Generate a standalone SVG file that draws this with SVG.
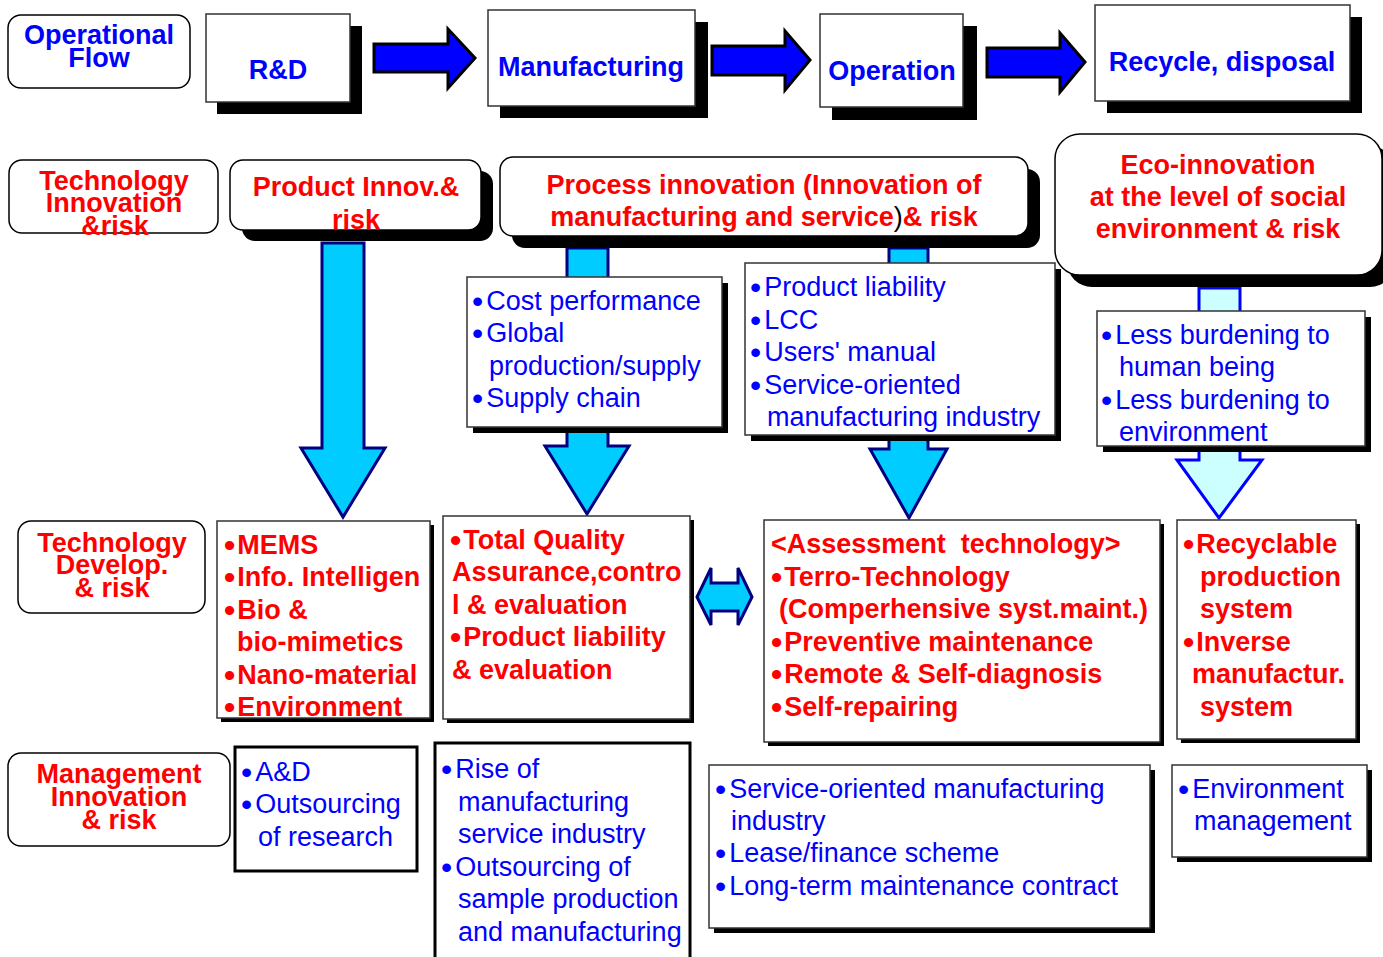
<svg xmlns="http://www.w3.org/2000/svg" width="1383" height="957" viewBox="0 0 1383 957">
  <style>
    .bg { fill:#ffffff }
    .box { fill:#ffffff; stroke:#333333; stroke-width:1.5 }
    .thick { fill:#ffffff; stroke:#000000; stroke-width:3 }
    .lbl { fill:#ffffff; stroke:#000000; stroke-width:1.5 }
    .sh { fill:#000000 }
    .b { font-family:"Liberation Sans", Arial, Helvetica, sans-serif; font-size:27px; font-weight:bold }
    .n { font-family:"Liberation Sans", Arial, Helvetica, sans-serif; font-size:27px }
    .bu { font-size:32px }
    .c { text-anchor:middle }
    .red { fill:#ff0000 }
    .blue { fill:#0000ff }
    .flow { fill:#0000ff; stroke:#000000; stroke-width:3; stroke-linejoin:miter }
    .down { fill:#00ccff; stroke:#000080; stroke-width:3 }
    .downl { fill:#ccffff; stroke:#0000ff; stroke-width:3 }
  </style>
  <rect class="bg" x="0" y="0" width="1383" height="957"/>

  <!-- connectors (drawn first so the boxes sit on top of the shafts) -->
  <g id="connectors">
    <path class="flow" d="M374,44 H448 V29 L475,58 L448,88 V72 H374 Z"/>
    <path class="flow" d="M712,46 H785 V31 L810,60 L785,90 V75 H712 Z"/>
    <path class="flow" d="M987,48 H1060 V33 L1085,62 L1060,92 V77 H987 Z"/>
    <path class="down" d="M322,243 H364 V448 H385 L343,517 L301,448 H322 Z"/>
    <path class="down" d="M567,248 H608 V446 H629 L587,514 L545,446 H567 Z"/>
    <path class="down" d="M889,248 H928 V449 H947 L909,518 L870,449 H889 Z"/>
    <path class="downl" d="M1199,288 H1240 V460 H1262 L1219,518 L1177,460 H1199 Z"/>
    <path class="down" d="M697,597 L711,568 V583 H738 V568 L752,597 L738,625 V611 H711 V625 Z"/>
  </g>

  <!-- operational flow row -->
  <g id="op-flow">
    <rect class="lbl" x="8" y="15" width="182" height="73" rx="13"/>
    <text class="b c blue" x="99" y="44">Operational</text>
    <text class="b c blue" x="99" y="67">Flow</text>
  </g>
  <g id="rnd">
    <rect class="sh" x="217" y="26" width="145" height="88"/>
    <rect class="box" x="206" y="14" width="144" height="88"/>
    <text class="b c blue" x="278" y="79">R&amp;D</text>
  </g>
  <g id="manufacturing">
    <rect class="sh" x="500" y="22" width="208" height="96"/>
    <rect class="box" x="488" y="10" width="207" height="96"/>
    <text class="b c blue" x="591" y="76">Manufacturing</text>
  </g>
  <g id="operation">
    <rect class="sh" x="832" y="26" width="145" height="94"/>
    <rect class="box" x="820" y="14" width="143" height="93"/>
    <text class="b c blue" x="892" y="80">Operation</text>
  </g>
  <g id="recycle">
    <rect class="sh" x="1107" y="17" width="255" height="96"/>
    <rect class="box" x="1095" y="5" width="255" height="96"/>
    <text class="b c blue" x="1222" y="71">Recycle, disposal</text>
  </g>

  <!-- technology innovation row -->
  <g id="tech-innov">
    <rect class="lbl" x="9" y="160" width="209" height="73" rx="13"/>
    <text class="b c red" x="114" y="190">Technology</text>
    <text class="b c red" x="114" y="212">Innovation</text>
    <text class="b c red" x="115" y="235">&amp;risk</text>
  </g>
  <g id="product-innov">
    <rect class="sh" x="242" y="171" width="251" height="70" rx="13"/>
    <rect class="lbl" x="230" y="160" width="251" height="70" rx="13"/>
    <text class="b c red" x="356" y="196">Product Innov.&amp;</text>
    <text class="b c red" x="356" y="229">risk</text>
  </g>
  <g id="process-innov">
    <rect class="sh" x="512" y="169" width="528" height="79" rx="13"/>
    <rect class="lbl" x="500" y="157" width="528" height="79" rx="13"/>
    <text class="b c red" x="764" y="194">Process innovation (Innovation of</text>
    <text class="b c red" x="764" y="226">manufacturing and service<tspan style="font-weight:normal;fill:#000000">)</tspan>&amp; risk</text>
  </g>
  <g id="eco-innov">
    <rect class="sh" x="1067" y="146" width="328" height="141" rx="25"/>
    <rect class="lbl" x="1055" y="134" width="327" height="141" rx="25"/>
    <text class="b c red" x="1218" y="174">Eco-innovation</text>
    <text class="b c red" x="1218" y="206">at the level of social</text>
    <text class="b c red" x="1218" y="238">environment &amp; risk</text>
  </g>

  <g id="cost-box">
    <rect class="sh" x="473" y="283" width="255" height="150"/>
    <rect class="box" x="467" y="277" width="255" height="150"/>
    <text class="n blue" x="472" y="310"><tspan class="bu" dy="2">•</tspan><tspan dx="3" dy="-2">Cost performance</tspan></text>
    <text class="n blue" x="472" y="342"><tspan class="bu" dy="2">•</tspan><tspan dx="3" dy="-2">Global</tspan></text>
    <text class="n blue" x="489" y="375">production/supply</text>
    <text class="n blue" x="472" y="407"><tspan class="bu" dy="2">•</tspan><tspan dx="3" dy="-2">Supply chain</tspan></text>
  </g>
  <g id="liability-box">
    <rect class="sh" x="751" y="269" width="310" height="172"/>
    <rect class="box" x="745" y="263" width="310" height="172"/>
    <text class="n blue" x="750" y="296"><tspan class="bu" dy="2">•</tspan><tspan dx="3" dy="-2">Product liability</tspan></text>
    <text class="n blue" x="750" y="329"><tspan class="bu" dy="2">•</tspan><tspan dx="3" dy="-2">LCC</tspan></text>
    <text class="n blue" x="750" y="361"><tspan class="bu" dy="2">•</tspan><tspan dx="3" dy="-2">Users' manual</tspan></text>
    <text class="n blue" x="750" y="394"><tspan class="bu" dy="2">•</tspan><tspan dx="3" dy="-2">Service-oriented</tspan></text>
    <text class="n blue" x="767" y="426">manufacturing industry</text>
  </g>
  <g id="burden-box">
    <rect class="sh" x="1103" y="317" width="268" height="135"/>
    <rect class="box" x="1097" y="311" width="268" height="135"/>
    <text class="n blue" x="1101" y="344"><tspan class="bu" dy="2">•</tspan><tspan dx="3" dy="-2">Less burdening to</tspan></text>
    <text class="n blue" x="1119" y="376">human being</text>
    <text class="n blue" x="1101" y="409"><tspan class="bu" dy="2">•</tspan><tspan dx="3" dy="-2">Less burdening to</tspan></text>
    <text class="n blue" x="1119" y="441">environment</text>
  </g>

  <!-- technology development row -->
  <g id="tech-dev">
    <rect class="lbl" x="18" y="521" width="187" height="92" rx="13"/>
    <text class="b c red" x="112" y="552">Technology</text>
    <text class="b c red" x="112" y="574">Develop.</text>
    <text class="b c red" x="112" y="597">&amp; risk</text>
  </g>
  <g id="mems-box">
    <rect class="sh" x="221" y="525" width="213" height="197"/>
    <rect class="box" x="217" y="521" width="213" height="197"/>
    <text class="b red" x="224" y="554"><tspan class="bu" dy="2">•</tspan><tspan dx="2" dy="-2">MEMS</tspan></text>
    <text class="b red" x="224" y="586"><tspan class="bu" dy="2">•</tspan><tspan dx="2" dy="-2">Info. Intelligen</tspan></text>
    <text class="b red" x="224" y="619"><tspan class="bu" dy="2">•</tspan><tspan dx="2" dy="-2">Bio &amp;</tspan></text>
    <text class="b red" x="237" y="651">bio-mimetics</text>
    <text class="b red" x="224" y="684"><tspan class="bu" dy="2">•</tspan><tspan dx="2" dy="-2">Nano-material</tspan></text>
    <text class="b red" x="224" y="716"><tspan class="bu" dy="2">•</tspan><tspan dx="2" dy="-2">Environment</tspan></text>
  </g>
  <g id="tqa-box">
    <rect class="sh" x="447" y="520" width="247" height="203"/>
    <rect class="box" x="443" y="516" width="247" height="203"/>
    <text class="b red" x="450" y="549"><tspan class="bu" dy="2">•</tspan><tspan dx="2" dy="-2">Total Quality</tspan></text>
    <text class="b red" x="452" y="581">Assurance,contro</text>
    <text class="b red" x="452" y="614">l &amp; evaluation</text>
    <text class="b red" x="450" y="646"><tspan class="bu" dy="2">•</tspan><tspan dx="2" dy="-2">Product liability</tspan></text>
    <text class="b red" x="452" y="679">&amp; evaluation</text>
  </g>
  <g id="assessment-box">
    <rect class="sh" x="768" y="524" width="396" height="222"/>
    <rect class="box" x="764" y="520" width="396" height="222"/>
    <text class="b red" x="771" y="553" xml:space="preserve">&lt;Assessment  technology&gt;</text>
    <text class="b red" x="771" y="586"><tspan class="bu" dy="2">•</tspan><tspan dx="2" dy="-2">Terro-Technology</tspan></text>
    <text class="b red" x="779" y="618">(Comperhensive syst.maint.)</text>
    <text class="b red" x="771" y="651"><tspan class="bu" dy="2">•</tspan><tspan dx="2" dy="-2">Preventive maintenance</tspan></text>
    <text class="b red" x="771" y="683"><tspan class="bu" dy="2">•</tspan><tspan dx="2" dy="-2">Remote &amp; Self-diagnosis</tspan></text>
    <text class="b red" x="771" y="716"><tspan class="bu" dy="2">•</tspan><tspan dx="2" dy="-2">Self-repairing</tspan></text>
  </g>
  <g id="recyclable-box">
    <rect class="sh" x="1181" y="524" width="179" height="219"/>
    <rect class="box" x="1177" y="520" width="179" height="219"/>
    <text class="b red" x="1183" y="553"><tspan class="bu" dy="2">•</tspan><tspan dx="2" dy="-2">Recyclable</tspan></text>
    <text class="b red" x="1200" y="586">production</text>
    <text class="b red" x="1200" y="618">system</text>
    <text class="b red" x="1183" y="651"><tspan class="bu" dy="2">•</tspan><tspan dx="2" dy="-2">Inverse</tspan></text>
    <text class="b red" x="1192" y="683">manufactur.</text>
    <text class="b red" x="1200" y="716">system</text>
  </g>

  <!-- management innovation row -->
  <g id="mgmt-innov">
    <rect class="lbl" x="8" y="753" width="222" height="93" rx="13"/>
    <text class="b c red" x="119" y="783">Management</text>
    <text class="b c red" x="119" y="806">Innovation</text>
    <text class="b c red" x="119" y="829">&amp; risk</text>
  </g>
  <g id="ad-box">
    <rect class="thick" x="235" y="747" width="182" height="124"/>
    <text class="n blue" x="241" y="781"><tspan class="bu" dy="2">•</tspan><tspan dx="3" dy="-2">A&amp;D</tspan></text>
    <text class="n blue" x="241" y="813"><tspan class="bu" dy="2">•</tspan><tspan dx="3" dy="-2">Outsourcing</tspan></text>
    <text class="n blue" x="258" y="846">of research</text>
  </g>
  <g id="rise-box">
    <rect class="thick" x="435" y="743" width="255" height="222"/>
    <text class="n blue" x="441" y="778"><tspan class="bu" dy="2">•</tspan><tspan dx="3" dy="-2">Rise of</tspan></text>
    <text class="n blue" x="458" y="811">manufacturing</text>
    <text class="n blue" x="458" y="843">service industry</text>
    <text class="n blue" x="441" y="876"><tspan class="bu" dy="2">•</tspan><tspan dx="3" dy="-2">Outsourcing of</tspan></text>
    <text class="n blue" x="458" y="908">sample production</text>
    <text class="n blue" x="458" y="941">and manufacturing</text>
  </g>
  <g id="service-box">
    <rect class="sh" x="714" y="770" width="441" height="163"/>
    <rect class="box" x="709" y="765" width="441" height="163"/>
    <text class="n blue" x="715" y="798"><tspan class="bu" dy="2">•</tspan><tspan dx="3" dy="-2">Service-oriented manufacturing</tspan></text>
    <text class="n blue" x="731" y="830">industry</text>
    <text class="n blue" x="715" y="862"><tspan class="bu" dy="2">•</tspan><tspan dx="3" dy="-2">Lease/finance scheme</tspan></text>
    <text class="n blue" x="715" y="895"><tspan class="bu" dy="2">•</tspan><tspan dx="3" dy="-2">Long-term maintenance contract</tspan></text>
  </g>
  <g id="env-box">
    <rect class="sh" x="1177" y="770" width="195" height="92"/>
    <rect class="box" x="1172" y="765" width="195" height="92"/>
    <text class="n blue" x="1178" y="798"><tspan class="bu" dy="2">•</tspan><tspan dx="3" dy="-2">Environment</tspan></text>
    <text class="n blue" x="1194" y="830">management</text>
  </g>
</svg>
